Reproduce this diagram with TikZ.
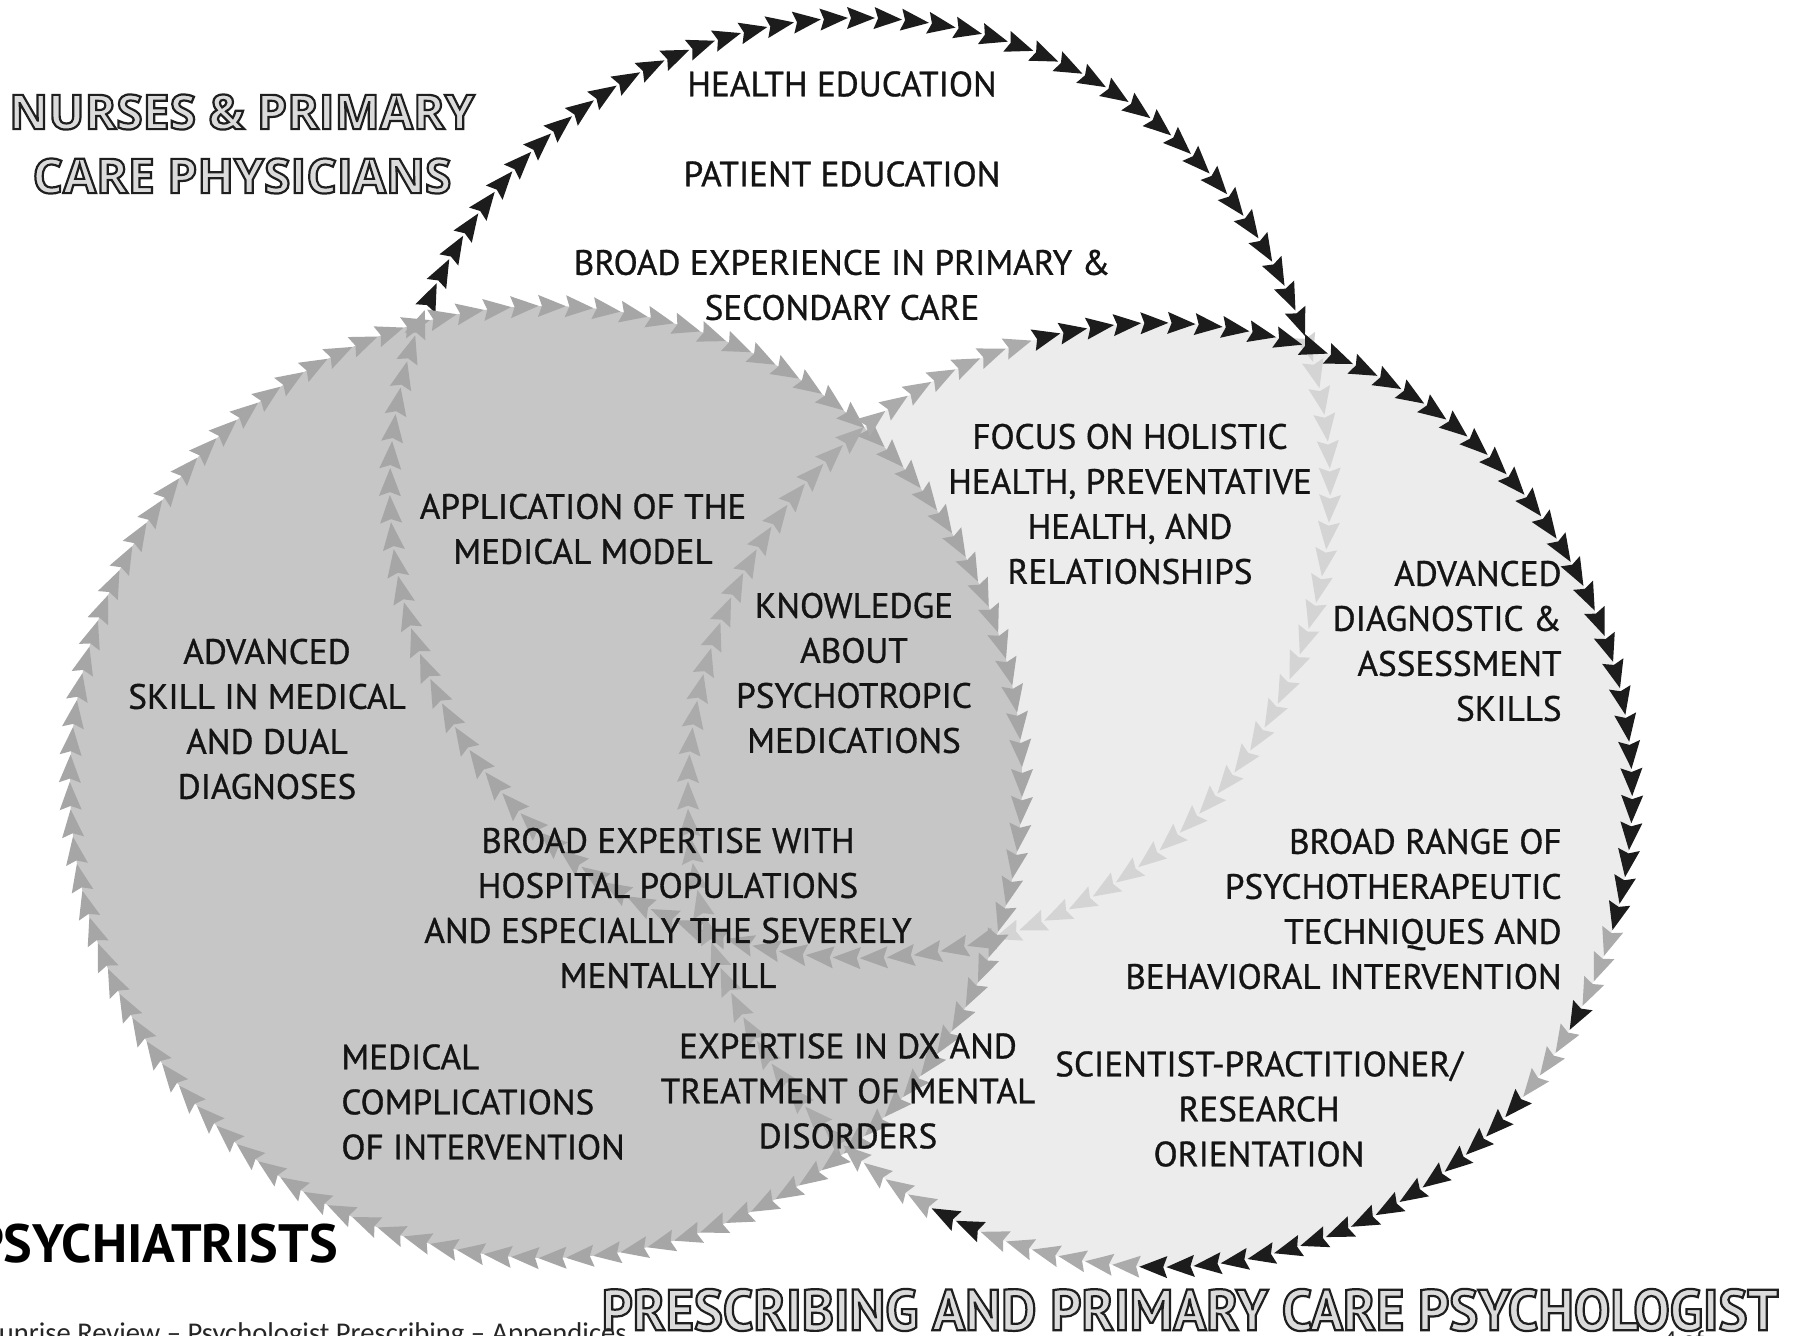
\documentclass[tikz,border=0pt]{standalone}
\usepackage{fontspec}
\setmainfont{PT Sans}
\newfontfamily\bodyfont[FakeBold=0.9]{PT Sans}
\newfontfamily\footfont{Carlito}
\newfontfamily\ttlfont{Open Sans}
\newfontfamily\condfont[FakeStretch=0.94]{PT Sans}
\newfontfamily\psyfont{PT Sans}
\definecolor{blk}{HTML}{1C1C1C}
\definecolor{lfill}{HTML}{C6C6C6}
\definecolor{rfill}{HTML}{ECECEC}
\definecolor{ltip}{HTML}{A6A6A6}
\definecolor{rtip}{HTML}{ABABAB}
\definecolor{ftip}{HTML}{D4D4D4}
\newcommand\outlined[1]{\special{pdf:code q 2 Tr 1.1 w 0.12 G}#1\special{pdf:code Q}}
\tikzset{
  tipc0/.style={fill=blk},
  tipc1/.style={fill=ltip},
  tipc2/.style={fill=ftip},
  tipc3/.style={fill=rtip},
  txt/.style={font=\bodyfont\fontsize{17.6}{22.5}\selectfont, align=center, inner sep=0pt, text=black!92},
  ttl/.style={font=\ttlfont\bfseries\fontsize{24}{32}\selectfont, align=center, inner sep=0pt, text=black!14},
}
% #1 cx, #2 cy, #3 r, #4 a0, #5 a1, #6 colour-code expression in \ang
\newcommand\tipring[6]{%
  \pgfmathtruncatemacro\nn{floor((#5-#4)/3.3)}%
  \foreach \i in {0,...,\nn}{%
    \pgfmathsetmacro\ang{#4+3.3*\i}%
    \pgfmathtruncatemacro\code{#6}%
    \pgfmathsetmacro\px{#1+#3*cos(\ang)}%
    \pgfmathsetmacro\py{#2+#3*sin(\ang)}%
    \pgfmathsetmacro\sa{sin(\ang)}%
    \pgfmathsetmacro\ca{cos(\ang)}%
    \fill[tipc\code] ({\px-15*\sa},{\py+15*\ca})
      -- ({\px+13*\sa+11*\ca},{\py-13*\ca+11*\sa})
      -- ({\px+9*\sa},{\py-9*\ca})
      -- ({\px+13*\sa-11*\ca},{\py-13*\ca-11*\sa}) -- cycle;
  }}
\begin{document}
\begin{tikzpicture}[x=0.5pt,y=-0.5pt]
\useasboundingbox (0,0) rectangle (1804,1336);
\clip (0,0) rectangle (1804,1336);
\fill[white] (0,0) rectangle (1804,1336);
% circle fills
\fill[rfill] (1160,795) circle [radius=472];
\fill[lfill] (546,782) circle [radius=476];
% rings of arrow tips
\tipring{860}{488}{470}{-156}{203}{ifthenelse(\ang<=-19,0,ifthenelse(\ang<=73,2,1))}
\tipring{546}{782}{476}{0}{357}{1}
\tipring{1160}{795}{472}{-104}{255}{ifthenelse(\ang<=18 || (\ang>=25 && \ang<=31) || (\ang>=40 && \ang<=92) || (\ang>=113 && \ang<=118),0,3)}
% texts
\node[txt] (he) at (842,84) {HEALTH EDUCATION};
\node[txt] (pe) at (842,174) {PATIENT EDUCATION};
\node[txt] (be) at (842,285) {BROAD EXPERIENCE IN PRIMARY \&\\SECONDARY CARE};
\node[txt] (am) at (583,529) {APPLICATION OF THE\\MEDICAL MODEL};
\node[txt] (kn) at (854,673) {KNOWLEDGE\\ABOUT\\PSYCHOTROPIC\\MEDICATIONS};
\node[txt] (fh) at (1130,504) {FOCUS ON HOLISTIC\\HEALTH, PREVENTATIVE\\HEALTH, AND\\RELATIONSHIPS};
\node[txt, align=right, anchor=east] (ad) at (1562,641) {ADVANCED\\DIAGNOSTIC \&\\ASSESSMENT\\SKILLS};
\node[txt] (as) at (267,719) {ADVANCED\\SKILL IN MEDICAL\\AND DUAL\\DIAGNOSES};
\node[txt] (bx) at (668,908) {BROAD EXPERTISE WITH\\HOSPITAL POPULATIONS\\AND ESPECIALLY THE SEVERELY\\MENTALLY ILL};
\node[txt, align=right, anchor=east] (br) at (1562,909) {BROAD RANGE OF\\PSYCHOTHERAPEUTIC\\TECHNIQUES AND\\BEHAVIORAL INTERVENTION};
\node[txt, align=left, anchor=west] (mc) at (341,1102) {MEDICAL\\COMPLICATIONS\\OF INTERVENTION};
\node[txt] (ed) at (848,1091) {EXPERTISE IN DX AND\\TREATMENT OF MENTAL\\DISORDERS};
\node[txt] (sp) at (1259,1109) {SCIENTIST-PRACTITIONER/\\RESEARCH\\ORIENTATION};
% titles
\node[ttl] (nur) at (242,144) {\outlined{NURSES \& PRIMARY}\\\outlined{CARE PHYSICIANS}};
\node[font=\psyfont\bfseries\fontsize{27}{30}\selectfont, inner sep=0pt, anchor=east, text=black] (psy) at (338,1244) {PSYCHIATRISTS};
\node[font=\condfont\bfseries\fontsize{29}{30}\selectfont, inner sep=0pt, text=black!14] (pcp) at (1190,1310) {\outlined{PRESCRIBING AND PRIMARY CARE PSYCHOLOGIST}};
% footer
\node[font=\footfont\fontsize{14.3}{16}\selectfont, inner sep=0pt, anchor=base east, text=black!85] (foot) at (627,1342) {Sunrise Review \textendash{} Psychologist Prescribing \textendash{} Appendices};
\node[font=\footfont\fontsize{13}{15}\selectfont, inner sep=0pt, anchor=base west, text=black!85] (pg) at (1663,1348) {4 of};
\end{tikzpicture}
\end{document}
